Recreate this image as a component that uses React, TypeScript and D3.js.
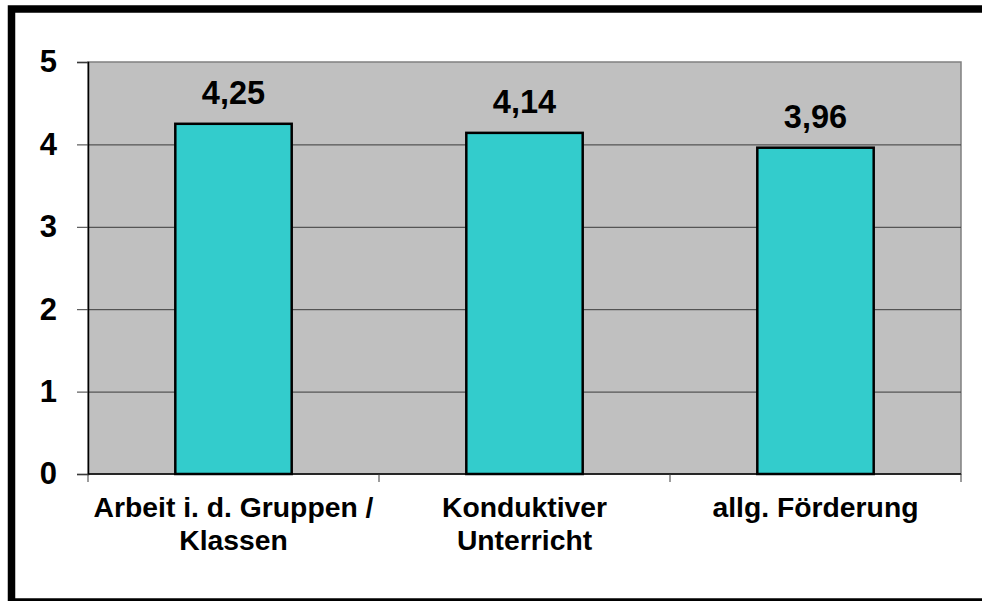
import * as d3 from "d3";
import React, { useEffect, useRef } from "react";

const categories: string[][] = [
  ["Arbeit i. d. Gruppen /", "Klassen"],
  ["Konduktiver", "Unterricht"],
  ["allg. Förderung"],
];
const values: number[] = [4.25, 4.14, 3.96];
const valueLabels: string[] = ["4,25", "4,14", "3,96"];
const yTicks: number[] = [0, 1, 2, 3, 4, 5];

const FONT = "'Liberation Sans', Arial, sans-serif";

export default function App() {
  const svgRef = useRef<SVGSVGElement>(null);

  useEffect(() => {
    const width = 982;
    const height = 601;
    const svg = d3.select(svgRef.current).attr("width", width).attr("height", height);
    svg.selectAll("*").remove();

    // plot area bounds
    const left = 88;
    const right = 961;
    const top = 62;
    const bottom = 474;

    const xScale = d3
      .scaleBand<number>()
      .domain(categories.map((d, i) => i))
      .range([left, right])
      .padding(0);
    const yScale = d3.scaleLinear().domain([0, 5]).range([bottom, top]);
    const barWidth = xScale.bandwidth() * 0.4;

    // outer frame
    svg
      .append("rect")
      .attr("x", 11.5)
      .attr("y", 9)
      .attr("width", 1000)
      .attr("height", 593)
      .attr("fill", "#fff")
      .attr("stroke", "#000")
      .attr("stroke-width", 7.5);

    // plot background
    svg
      .append("rect")
      .attr("x", left)
      .attr("y", top)
      .attr("width", right - left)
      .attr("height", bottom - top)
      .attr("fill", "#C0C0C0")
      .attr("stroke", "#808080")
      .attr("stroke-width", 1.5);

    // gridlines
    svg
      .append("g")
      .selectAll("line")
      .data(yTicks.filter((t) => t > 0 && t < 5))
      .join("line")
      .attr("x1", left)
      .attr("x2", right)
      .attr("y1", (d) => yScale(d) + 0.5)
      .attr("y2", (d) => yScale(d) + 0.5)
      .attr("stroke", "#3a3a3a")
      .attr("stroke-width", 1);

    // bars
    svg
      .selectAll(".bar")
      .data(values)
      .join("rect")
      .attr("class", "bar")
      .attr("x", (d, i) => (xScale(i) as number) + (xScale.bandwidth() - barWidth) / 2)
      .attr("y", (d) => yScale(d))
      .attr("width", barWidth)
      .attr("height", (d) => bottom - yScale(d))
      .attr("fill", "#33CCCC")
      .attr("stroke", "#000")
      .attr("stroke-width", 2.5);

    // value labels
    svg
      .selectAll(".val")
      .data(values)
      .join("text")
      .attr("class", "val")
      .attr("x", (d, i) => (xScale(i) as number) + xScale.bandwidth() / 2)
      .attr("y", (d) => yScale(d) - 20)
      .attr("text-anchor", "middle")
      .attr("font-family", FONT)
      .attr("font-weight", "bold")
      .attr("font-size", 32.5)
      .text((d, i) => valueLabels[i]);

    // y axis
    const yAxis = d3
      .axisLeft(yScale)
      .tickValues(yTicks)
      .tickSize(11)
      .tickPadding(20)
      .tickFormat((d) => String(d));
    const gy = svg.append("g").attr("transform", `translate(${left},0)`).call(yAxis);
    gy.select(".domain").attr("stroke", "#000").attr("stroke-width", 1.5);
    gy.selectAll(".tick line").attr("stroke", "#3a3a3a");
    gy.selectAll(".tick text")
      .attr("font-family", FONT)
      .attr("font-weight", "bold")
      .attr("font-size", 31)
      .attr("fill", "#000");

    // x axis (ticks at category boundaries)
    const gx = svg.append("g").attr("transform", `translate(0,${bottom})`);
    gx.append("line")
      .attr("x1", left)
      .attr("x2", right)
      .attr("stroke", "#000")
      .attr("stroke-width", 1.5);
    gx.selectAll(".xt")
      .data(d3.range(categories.length + 1))
      .join("line")
      .attr("class", "xt")
      .attr("x1", (i) => (i < categories.length ? (xScale(i) as number) : right))
      .attr("x2", (i) => (i < categories.length ? (xScale(i) as number) : right))
      .attr("y1", 0)
      .attr("y2", 8)
      .attr("stroke", "#3a3a3a");

    // category labels
    const labels = svg
      .selectAll(".cat")
      .data(categories)
      .join("text")
      .attr("class", "cat")
      .attr("x", (d, i) => (xScale(i) as number) + xScale.bandwidth() / 2)
      .attr("y", 517)
      .attr("text-anchor", "middle")
      .attr("font-family", FONT)
      .attr("font-weight", "bold")
      .attr("font-size", 28.3);
    labels
      .selectAll("tspan")
      .data((d) => d)
      .join("tspan")
      .attr("x", function () {
        return (this.parentNode as SVGTextElement).getAttribute("x");
      })
      .attr("dy", (d, i) => (i === 0 ? 0 : 33))
      .text((d) => d);
  }, []);

  return (
    <svg
      ref={svgRef}
      style={{ position: "absolute", left: 0, top: 0, background: "#fff" }}
    ></svg>
  );
}
